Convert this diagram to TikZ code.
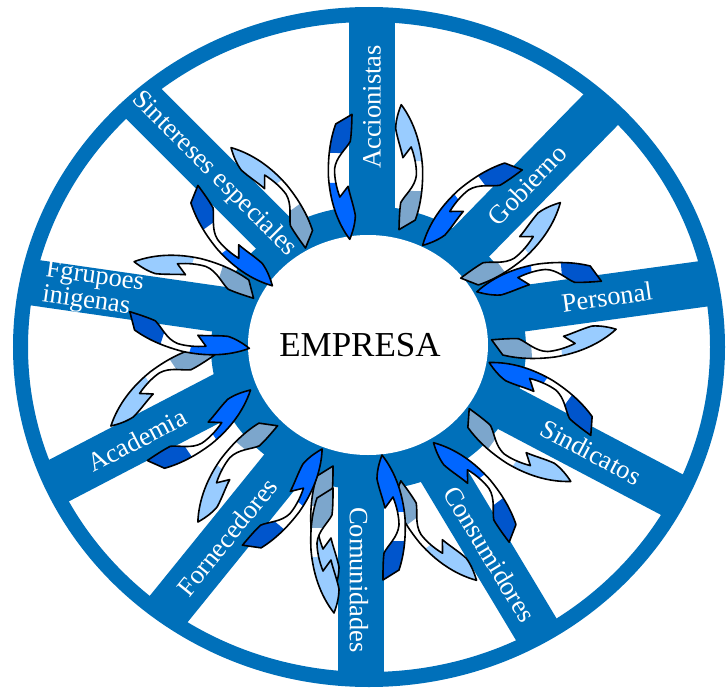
\documentclass[tikz,border=0pt]{standalone}
\usepackage{fontspec}
\setmainfont{Liberation Serif}
\begin{document}
\begin{tikzpicture}[x=1pt,y=1pt]
\definecolor{wheel}{RGB}{0,112,186}
\definecolor{darkin}{RGB}{0,85,204}
\definecolor{brightin}{RGB}{0,102,255}
\definecolor{lightout}{RGB}{153,204,255}
\definecolor{grayout}{RGB}{124,166,204}
\tikzset{
  spokelabel/.style={text=white, font=\fontsize{26.5}{25}\selectfont, inner sep=0pt},
  arrowline/.style={draw=black, line width=1.6pt, line join=round},
}
% one curved arrow of a cycle: tail at +x, head at -x, lying on the +y side
\newcommand{\bandpath}{(57,25) -- (47,41) .. controls (32,46) and (15,48) .. (-5,47)
  .. controls (-28,45) and (-50,38) .. (-68,24) .. controls (-60,21) and (-52,19) .. (-44,19)
  .. controls (-34,21) and (-24,25) .. (-15,27) -- (-26,35)
  .. controls (-16,39) and (-6,41) .. (2,41) .. controls (14,40) and (22,30) .. (30,26)
  .. controls (38,25) and (48,25) .. (57,25) -- cycle}
\newcommand{\halfcycle}[2]{%
  \fill[white] \bandpath;
  \begin{scope}\clip (18,0) rectangle (80,60); \fill[#1] \bandpath; \end{scope}
  \begin{scope}\clip (-12,0) rectangle (-80,60); \fill[#2] \bandpath; \end{scope}
  \draw[arrowline] \bandpath;}
% pair of arrows (inward and outward) centred at (#1,#2), turned by #3
\newcommand{\cyclepair}[3]{%
  \begin{scope}[shift={(#1,-#2)}, rotate=#3]
    \halfcycle{darkin}{brightin}
    \begin{scope}[rotate=180]\halfcycle{grayout}{lightout}\end{scope}
  \end{scope}}
% spoke through (#1,#2) at angle #3, starting #4 inward of that point
\newcommand{\spoke}[4]{\fill[wheel, shift={(#1,-#2)}, rotate=#3] (-#4,-23) rectangle (420,23);}

\useasboundingbox (0,0) rectangle (726,-688);
\fill[white] (0,0) rectangle (726,-688);

% spokes
\begin{scope}
  \clip (369,-347) ellipse [x radius=349, y radius=333];
  \spoke{372}{107}{90}{114}
  \spoke{527}{185}{45.6}{101}
  \spoke{607}{297}{7.8}{119}
  \spoke{591}{452}{-27.8}{122}
  \spoke{491}{554}{-59}{115}
  \spoke{360.5}{580}{-90}{109}
  \spoke{227}{537}{231}{112}
  \spoke{137}{440}{207.5}{124}
  \spoke{120}{295}{171.8}{128}
  \spoke{214}{174}{135}{106}
\end{scope}

% rim and hub
\draw[wheel, line width=15pt] (369,-347) ellipse [x radius=348.5, y radius=332.5];
\fill[wheel] (368.5,-348) ellipse [x radius=157.5, y radius=142];
\fill[white] (368,-345) ellipse [x radius=120, y radius=110];
\node[font=\fontsize{35}{40}\selectfont, inner sep=0pt] (hub) at (360,-345.5) {EMPRESA};

% exchange cycles along each spoke
\cyclepair{375.5}{172}{88.5}
\cyclepair{491.5}{224}{36.7}
\cyclepair{546.5}{310.5}{4.4}
\cyclepair{530}{422}{-36.1}
\cyclepair{455}{511.5}{-53.2}
\begin{scope}[shift={(358,-523)}, rotate=-90]
  \halfcycle{darkin}{brightin}
  \begin{scope}[rotate=180]\halfcycle{grayout}{lightout}\end{scope}
  \begin{scope}[xshift=22pt, rotate=180]\halfcycle{grayout}{lightout}\end{scope}
\end{scope}
\cyclepair{260}{485.5}{229.9}
\cyclepair{180.7}{408}{213.9}
\cyclepair{191.7}{305}{162.5}
\cyclepair{251.7}{216.7}{126.1}

% spoke labels
\node[spokelabel, rotate=90] (acc) at (372,-107) {Accionistas};
\node[spokelabel, rotate=46] (gob) at (527,-185) {Gobierno};
\node[spokelabel, rotate=8] (per) at (607,-297) {Personal};
\node[spokelabel, rotate=-28] (sind) at (591,-452) {Sindicatos};
\node[spokelabel, rotate=-59] (cons) at (490,-554) {Consumidores};
\node[spokelabel, rotate=-90] (com) at (359,-580) {Comunidades};
\node[spokelabel, rotate=51] (forn) at (227,-537) {Fornecedores};
\node[spokelabel, rotate=27.5] (acad) at (137,-440) {Academia};
\node[spokelabel, rotate=-8, align=left] (fgr) at (93,-290) {Fgrupoes\\inigenas};
\node[spokelabel, rotate=-45] (sint) at (214,-174) {Sintereses especiales};
\end{tikzpicture}
\end{document}
